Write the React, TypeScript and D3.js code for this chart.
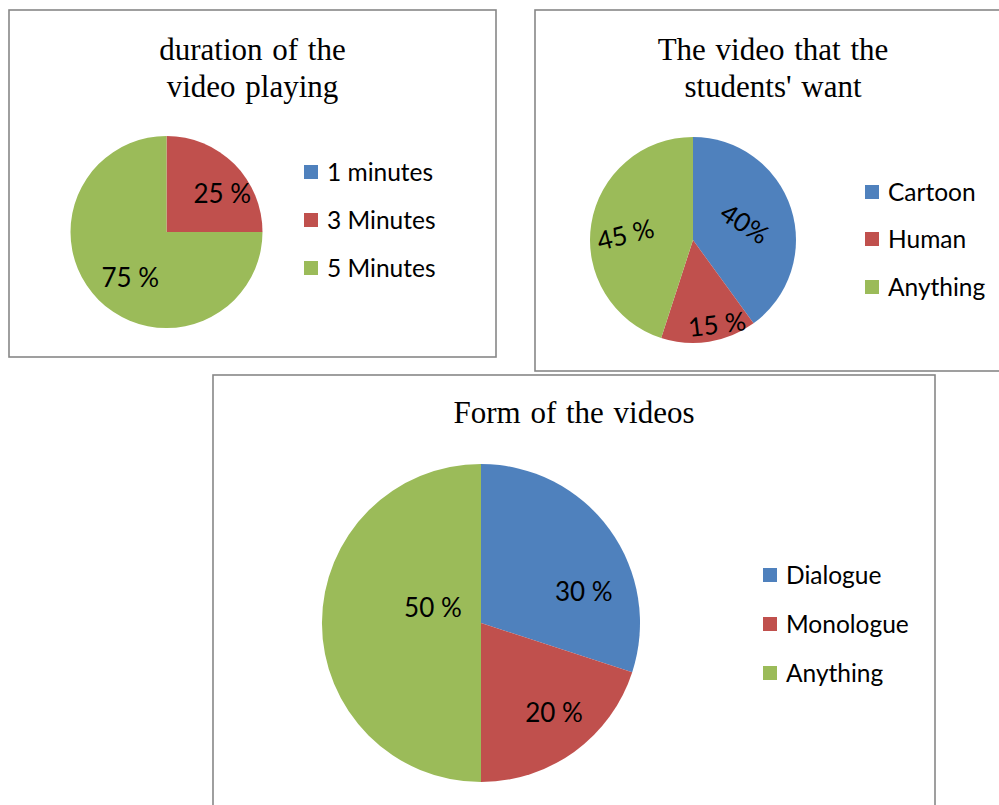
import React from "react";
import * as d3 from "d3";

// Survey results, one pie per question
const durationCategories = ["1 minutes", "3 Minutes", "5 Minutes"];
const durationValues = [0, 25, 75];
const durationLabels = ["", "25 %", "75 %"];

const wantCategories = ["Cartoon", "Human", "Anything"];
const wantValues = [40, 15, 45];
const wantLabels = ["40%", "15 %", "45 %"];

const formCategories = ["Dialogue", "Monologue", "Anything"];
const formValues = [30, 20, 50];
const formLabels = ["30 %", "20 %", "50 %"];

const COLORS = ["#4F81BD", "#C0504D", "#9BBB59"];
const SERIF = "'Liberation Serif', 'Times New Roman', serif";
const SANS = "Lato, 'Open Sans', sans-serif";

type LabelStyle = { angle: number; dist: number; rotate: number };

type PanelSpec = {
  title: string[];
  categories: string[];
  values: number[];
  labels: string[];
  box: { x: number; y: number; w: number; h: number };
  titleY: number[];
  cx: number;
  cy: number;
  r: number;
  legendX: number;
  legendY: number[];
  labelStyle: LabelStyle[];
};

const panels: PanelSpec[] = [
  {
    title: ["duration of the", "video playing"],
    categories: durationCategories,
    values: durationValues,
    labels: durationLabels,
    box: { x: 9, y: 10, w: 487, h: 347 },
    titleY: [60, 97],
    cx: 166.5,
    cy: 232,
    r: 96,
    legendX: 304,
    legendY: [172, 220, 268],
    labelStyle: [
      { angle: 0, dist: 0, rotate: 0 },
      { angle: 55, dist: 0.71, rotate: 0 },
      { angle: 219, dist: 0.6, rotate: 0 },
    ],
  },
  {
    title: ["The video that the", "students' want"],
    categories: wantCategories,
    values: wantValues,
    labels: wantLabels,
    box: { x: 535, y: 10, w: 476, h: 361 },
    titleY: [60, 97],
    cx: 693,
    cy: 240,
    r: 103,
    legendX: 865,
    legendY: [192, 239, 287],
    labelStyle: [
      { angle: 72, dist: 0.53, rotate: 33 },
      { angle: 164, dist: 0.845, rotate: -7 },
      { angle: 275, dist: 0.66, rotate: -14 },
    ],
  },
  {
    title: ["Form of the videos"],
    categories: formCategories,
    values: formValues,
    labels: formLabels,
    box: { x: 213, y: 375, w: 722, h: 440 },
    titleY: [423],
    cx: 481,
    cy: 623,
    r: 159,
    legendX: 763,
    legendY: [575, 624, 673],
    labelStyle: [
      { angle: 72.7, dist: 0.677, rotate: 0 },
      { angle: 140.6, dist: 0.723, rotate: 0 },
      { angle: 288, dist: 0.318, rotate: 0 },
    ],
  },
];

function PiePanel({ p }: { p: PanelSpec }) {
  const pie = d3
    .pie<number>()
    .sort(null)
    .value((d) => d);
  const arcs = pie(p.values);
  const arc = d3.arc<d3.PieArcDatum<number>>().innerRadius(0).outerRadius(p.r);
  const titleX = p.box.x + p.box.w / 2;

  return (
    <g>
      <rect
        x={p.box.x}
        y={p.box.y}
        width={p.box.w}
        height={p.box.h}
        fill="#fff"
        stroke="#878787"
        strokeWidth={1.6}
      />
      {p.title.map((line, i) => (
        <text
          key={i}
          x={titleX}
          y={p.titleY[i]}
          textAnchor="middle"
          fontFamily={SERIF}
          fontSize={31}
          fill="#000"
          style={{ wordSpacing: "2px" }}
        >
          {line}
        </text>
      ))}
      <g transform={`translate(${p.cx},${p.cy})`}>
        {arcs.map((a, i) =>
          a.endAngle > a.startAngle ? (
            <path key={i} d={arc(a) || ""} fill={COLORS[i]} />
          ) : null
        )}
        {arcs.map((a, i) => {
          if (!p.labels[i]) return null;
          const s = p.labelStyle[i];
          const rad = (s.angle * Math.PI) / 180;
          const x = Math.sin(rad) * s.dist * p.r;
          const y = -Math.cos(rad) * s.dist * p.r;
          return (
            <text
              key={i}
              transform={`translate(${x},${y}) rotate(${s.rotate})`}
              textAnchor="middle"
              dominantBaseline="central"
              fontFamily={SANS}
              fontSize={26}
              fill="#000"
            >
              {p.labels[i]}
            </text>
          );
        })}
      </g>
      {p.categories.map((c, i) => (
        <g key={c} transform={`translate(${p.legendX},${p.legendY[i]})`}>
          <rect x={0} y={-7} width={14} height={14} fill={COLORS[i]} />
          <text
            x={23}
            y={-1}
            dominantBaseline="central"
            fontFamily={SANS}
            fontSize={24.5}
            fill="#000"
          >
            {c}
          </text>
        </g>
      ))}
    </g>
  );
}

export default function App() {
  return (
    <svg
      width={999}
      height={805}
      style={{ position: "absolute", left: 0, top: 0, background: "#fff" }}
    >
      {panels.map((p, i) => (
        <PiePanel key={i} p={p} />
      ))}
    </svg>
  );
}
